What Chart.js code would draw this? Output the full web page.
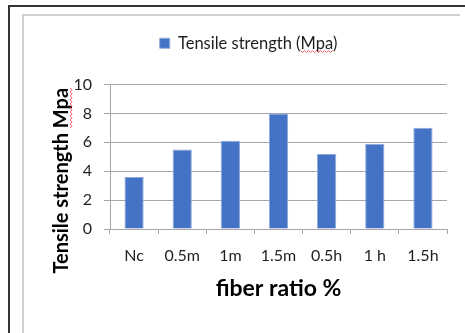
<!DOCTYPE html>
<html>
<head>
<meta charset="utf-8">
<script src="https://cdn.jsdelivr.net/npm/chart.js@4"></script>
<style>
  html, body { margin: 0; padding: 0; background: #fff; }
  #wrap { position: relative; width: 465px; height: 333px; overflow: hidden; }
  .frame-outer { position: absolute; left: 8px; top: 5px; right: -10px; bottom: -10px;
                 border-left: 2px solid #333; border-top: 2px solid #333; }
  .frame-inner { position: absolute; left: 22px; top: 14px; width: 436px; bottom: -10px;
                 border-left: 2px solid #d0d0d0; border-top: 2px solid #d0d0d0; }
  canvas { position: absolute; left: 0; top: 0; }
</style>
</head>
<body>
<div id="wrap">
  <div class="frame-outer"></div>
  <div class="frame-inner"></div>
  <canvas id="c" width="465" height="333"></canvas>
</div>
<script>
// Tensile strength by fibre content (m = one fibre type, h = the other)
const categories = ['Nc', '0.5m', '1m', '1.5m', '0.5h', '1 h', '1.5h'];
const tensileStrength = [3.6, 5.5, 6.1, 8.0, 5.2, 5.9, 7.0];
const seriesLabel = 'Tensile strength (Mpa)';
const yTitle = 'Tensile strength Mpa';
const xTitle = 'fiber ratio %';

const FONT = 'Lato, "Open Sans", sans-serif';
const GRID = '#a6a6a6';
const TEXT = '#1f1f1f';
const Y_TITLE_SIZE = 20;

// extra room under the legend, before the plot starts
const legendSpacer = {
  id: 'legendSpacer',
  beforeLayout(chart) {
    const lg = chart.legend;
    if (lg && !lg._spaced) {
      const fit = lg.fit.bind(lg);
      lg.fit = function () { fit(); this.height += 23; };
      lg._spaced = true;
    }
  }
};

// red wavy proof-reading marks under "Mpa"
function wavy(ctx, x0, y0, len, vertical) {
  ctx.beginPath();
  const step = 2;
  for (let i = 0; i <= len; i += step) {
    const off = ((i / step) % 2 === 0) ? -1 : 1;
    const px = vertical ? x0 + off : x0 + i;
    const py = vertical ? y0 + i : y0 + off;
    i === 0 ? ctx.moveTo(px, py) : ctx.lineTo(px, py);
  }
  ctx.stroke();
}

// vertical axis title, centred a little below the middle of the plot
const yAxisTitle = {
  id: 'yAxisTitle',
  afterDraw(chart) {
    const ctx = chart.ctx;
    const ys = chart.scales.y;
    const lineCenter = ys.left + Y_TITLE_SIZE * 0.6;
    const cy = (chart.chartArea.top + chart.chartArea.bottom) / 2 + 24;
    ctx.save();
    ctx.font = `bold ${Y_TITLE_SIZE}px ${FONT}`;
    const full = ctx.measureText(yTitle).width;
    const w = ctx.measureText('Mpa').width;
    ctx.translate(lineCenter, cy);
    ctx.rotate(-Math.PI / 2);
    ctx.fillStyle = '#000';
    ctx.textAlign = 'center';
    ctx.textBaseline = 'middle';
    ctx.fillText(yTitle, 0, 0);
    ctx.restore();

    ctx.save();
    ctx.strokeStyle = '#e8474c';
    ctx.lineWidth = 0.9;
    wavy(ctx, lineCenter + Y_TITLE_SIZE * 0.38 + 1.5, cy - full / 2, w, true);

    // legend entry
    const lg = chart.legend;
    const hb = lg.legendHitBoxes[0];
    const lo = lg.options.labels;
    const lf = lo.font;
    ctx.font = `${lf.size}px ${FONT}`;
    const tx = hb.left + lo.boxWidth + lf.size / 2;
    const pre = ctx.measureText('Tensile strength (').width;
    const mpa = ctx.measureText('Mpa').width;
    const ty = hb.top + hb.height / 2 + lf.size * 0.38 + 2;
    wavy(ctx, tx + pre, ty, mpa, false);
    ctx.restore();
  }
};

new Chart(document.getElementById('c'), {
  type: 'bar',
  data: {
    labels: categories,
    datasets: [{
      label: seriesLabel,
      data: tensileStrength,
      backgroundColor: '#4472c4',
      borderColor: '#8eaadb',
      borderWidth: 1,
      categoryPercentage: 1,
      barPercentage: 0.4
    }]
  },
  options: {
    responsive: false,
    animation: false,
    layout: { padding: { left: 50, right: 18, top: 25, bottom: 31 } },
    plugins: {
      legend: {
        position: 'top',
        labels: {
          boxWidth: 10, boxHeight: 10,
          padding: 10,
          color: TEXT,
          font: { size: 16.5, family: FONT }
        }
      },
      tooltip: { enabled: false }
    },
    scales: {
      x: {
        grid: { drawOnChartArea: false, drawTicks: true, tickLength: 5, color: GRID, offset: true },
        border: { color: GRID },
        ticks: { color: TEXT, font: { size: 16, family: FONT }, padding: 12, maxRotation: 0 },
        title: { display: true, text: xTitle, color: '#000', font: { size: 23, weight: 'bold', family: FONT }, padding: { top: 0, bottom: 0 } },
        afterFit(s) { s.height = 73; }
      },
      y: {
        min: 0, max: 10,
        ticks: { stepSize: 2, color: TEXT, font: { size: 16, family: FONT }, padding: 12 },
        grid: { color: GRID, tickLength: 6 },
        border: { color: GRID },
        title: { display: false },
        afterFit(s) { s.width = 60; }
      }
    }
  },
  plugins: [legendSpacer, yAxisTitle]
});
</script>
</body>
</html>
